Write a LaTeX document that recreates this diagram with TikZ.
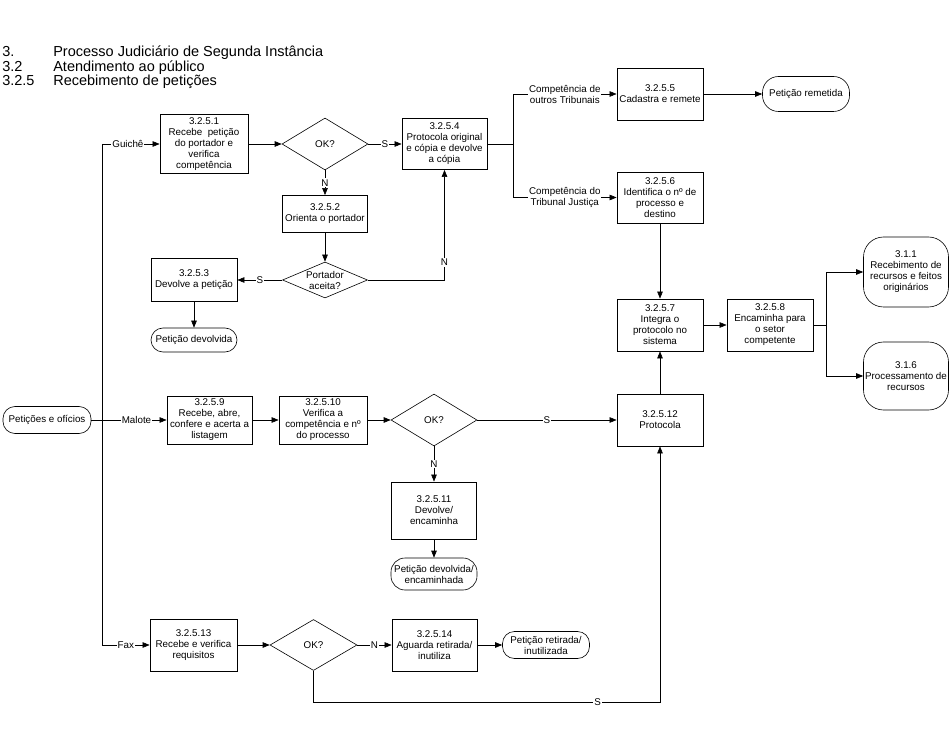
\documentclass[tikz,border=0pt]{standalone}
\usepackage{fontspec}
\setmainfont{Liberation Sans}
\usetikzlibrary{shapes.geometric, arrows.meta}

\begin{document}
\begin{tikzpicture}[x=1pt, y=-1pt, line width=0.6pt,
  font=\fontsize{9.8}{11}\selectfont,
  box/.style={draw, line width=0.8pt, align=center, inner sep=1pt, minimum width=86pt, minimum height=52pt},
  dec/.style={draw, diamond, align=center, inner sep=0pt, minimum width=86pt, minimum height=52pt},
  term/.style={draw, rounded corners=12pt, align=center, inner sep=1pt, minimum width=86pt, minimum height=27pt},
  lbl/.style={fill=white, inner sep=1pt, align=center},
  arr/.style={-{Triangle[length=7pt,width=5.5pt]}}]
\useasboundingbox (0,0) rectangle (951,751);
\foreach \n/\t [count=\i] in {3./Processo Judiciário de Segunda Instância, 3.2/Atendimento ao público, 3.2.5/Recebimento de petições} {
  \node[anchor=base west, inner sep=0pt, font=\fontsize{14.5}{16}\selectfont] (hn\i) at (2,{42.5+14.5*\i}) {\n};
  \node[anchor=base west, inner sep=0pt, font=\fontsize{14.5}{16}\selectfont] (ht\i) at (53,{42.5+14.5*\i}) {\t};
}
\node[term, minimum width=88pt] (pet) at (47,420) {Petições e ofícios};
\coordinate (tr) at (102,420);
\node[box, minimum width=88pt, minimum height=59pt] (b1) at (204,144) {3.2.5.1\\Recebe~~petição\\do portador e\\verifica\\competência};
\node[dec] (d1) at (325,144) {OK?};
\node[box, minimum width=85pt, minimum height=51pt] (b4) at (444.5,144) {3.2.5.4\\Protocola original\\e cópia e devolve\\a cópia};
\node[box, minimum width=85pt, minimum height=37pt] (b2) at (325,214) {3.2.5.2\\Orienta o portador};
\node[dec, aspect=2.4, inner sep=-3pt, minimum width=85pt, minimum height=36pt] (d2) at (325,280) {Portador\\aceita?};
\node[box, minimum height=43pt] (b3) at (194,280) {3.2.5.3\\Devolve a petição};
\node[term, minimum height=24pt] (tdev) at (194,340) {Petição devolvida};
\coordinate (br1) at (513,144);
\node[box] (b5) at (660,94) {3.2.5.5\\Cadastra e remete};
\node[box, minimum height=51pt] (b6) at (660,197.5) {3.2.5.6\\Identifica o nº de\\processo e\\destino};
\node[term, minimum width=87pt, minimum height=35pt, rounded corners=16pt] (trem) at (806,94) {Petição remetida};
\node[box] (b7) at (660,325) {3.2.5.7\\Integra o\\protocolo no\\sistema};
\node[box] (b8) at (770,325) {3.2.5.8\\Encaminha para\\o setor\\competente};
\coordinate (br2) at (826,325);
\node[term, minimum width=85pt, minimum height=70pt, rounded corners=20pt] (t311) at (906,272) {3.1.1\\Recebimento de\\recursos e feitos\\originários};
\node[term, minimum width=85pt, minimum height=68pt, rounded corners=20pt] (t316) at (906,376) {3.1.6\\Processamento de\\recursos};
\node[box, minimum width=85pt, minimum height=48pt] (b9) at (209.5,420) {3.2.5.9\\Recebe, abre,\\confere e acerta a\\listagem};
\node[box, minimum width=88pt, minimum height=48pt] (b10) at (323,420) {3.2.5.10\\Verifica a\\competência e nº\\do processo};
\node[dec] (d3) at (434,420) {OK?};
\node[box] (b12) at (660,420) {3.2.5.12\\Protocola};
\node[box, minimum width=85pt, minimum height=57pt] (b11) at (434,510.5) {3.2.5.11\\Devolve/\\encaminha};
\node[term, minimum height=32pt, rounded corners=14pt] (tenc) at (434,574) {Petição devolvida/\\encaminhada};
\node[box, minimum width=87pt] (b13) at (193.5,645) {3.2.5.13\\Recebe e verifica\\requisitos};
\node[dec, minimum width=87pt, minimum height=51pt] (d4) at (313.5,645) {OK?};
\node[box, minimum width=85pt] (b14) at (434.5,645) {3.2.5.14\\Aguarda retirada/\\inutiliza};
\node[term, minimum width=87pt] (tret) at (546,645) {Petição retirada/\\inutilizada};
\coordinate (cs) at (660,702);
\draw (b1.west -| tr) -- (b13.west -| tr);
\draw[arr] (b1.west -| tr) -- node[lbl, pos=0.45]{Guichê} (b1.west);
\draw[arr] (pet) -- node[lbl, pos=0.6]{Malote} (b9);
\draw[arr] (b13.west -| tr) -- node[lbl]{Fax} (b13.west);
\draw[arr] (b1) -- (d1);
\draw[arr] (d1) -- node[lbl]{S} (b4);
\draw[arr] (d1) -- node[lbl]{N} (b2);
\draw[arr] (b2) -- (d2);
\draw[arr] (d2) -- node[lbl]{S} (b3);
\draw[arr] (d2.east) -| node[lbl, pos=0.58]{N} (b4.south);
\draw[arr] (b3) -- (tdev);
\draw (b4) -- (br1);
\draw[arr] (br1) |- node[lbl, pos=0.75]{Competência de\\outros Tribunais} (b5);
\draw[arr] (br1) |- node[lbl, pos=0.75]{Competência do\\Tribunal Justiça} (b6);
\draw[arr] (b5) -- (trem);
\draw[arr] (b6) -- (b7);
\draw[arr] (b7) -- (b8);
\draw (b8) -- (br2);
\draw[arr] (br2) |- (t311);
\draw[arr] (br2) |- (t316);
\draw[arr] (b12) -- (b7);
\draw[arr] (b9) -- (b10);
\draw[arr] (b10) -- (d3);
\draw[arr] (d3) -- node[lbl]{S} (b12);
\draw[arr] (d3) -- node[lbl]{N} (b11);
\draw[arr] (b11) -- (tenc);
\draw[arr] (b13) -- (d4);
\draw[arr] (d4) -- node[lbl]{N} (b14);
\draw[arr] (b14) -- (tret);
\draw[arr] (d4.south) |- node[lbl, pos=0.91]{S} (cs) -- (b12.south);
\end{tikzpicture}
\end{document}
